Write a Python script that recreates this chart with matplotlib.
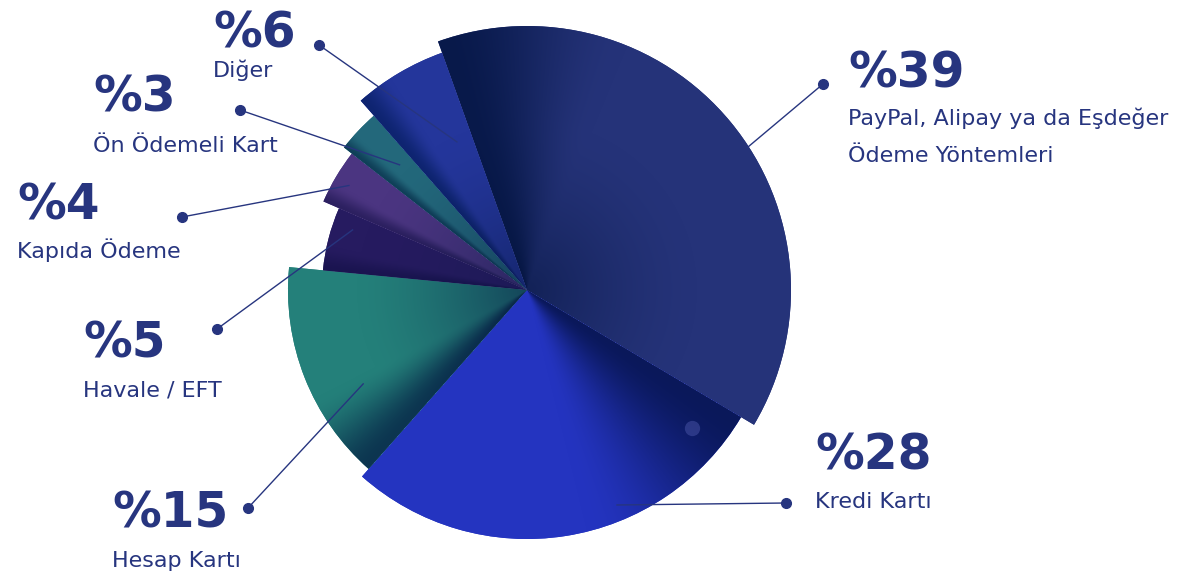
import numpy as np
import matplotlib
matplotlib.use("Agg")
import matplotlib.pyplot as plt
from matplotlib.patches import Wedge
from matplotlib.colors import to_rgb

# slices, clockwise from the top
shares = [39, 28, 15, 5, 4, 3, 6]
percent_labels = ["%39", "%28", "%15", "%5", "%4", "%3", "%6"]
names = ["PayPal, Alipay ya da Eşdeğer\nÖdeme Yöntemleri", "Kredi Kartı", "Hesap Kartı",
         "Havale / EFT", "Kapıda Ödeme", "Ön Ödemeli Kart", "Diğer"]

# styling
base_colors = ["#253379", "#2434c0", "#24807a", "#261b60", "#4b3581", "#23687b", "#24369b"]
dark_colors = ["#08194a", "#0a185a", "#0c3550", "#1a1450", "#2c2060", "#0f3f58", "#0e2470"]
shade_width = [0.3, 0.45, 0.4, 0.4, 0.4, 0.4, 0.4]
center_dark = [0.6, 0.0, 0.55, 0.3, 0.5, 0.5, 0.5]
radii = [264, 249, 239, 205, 222, 232, 252]
W, H = 1180, 574
cx, cy = 527, H - 290
start_angle = 109.7
text_color = "#27357f"

# label layout (pixels from top-left)
label_x = [848, 815, 112, 83, 17, 93, 213]
num_base = [88, 470, 528, 358, 220, 112, 47]
name_base = [125, 508, 567, 397, 258, 152, 77]
dot_xy = [(823, 84), (786, 503), (248, 508), (217, 329), (182, 217), (240, 110), (319, 45)]
anchor_frac = [0.547, 0.363, 0.346, 0.75, 0.48, 0.61, 0.74]
anchor_r = [0.996, 0.936, 0.79, 0.9, 0.93, 0.77, 0.65]

fig = plt.figure(figsize=(W / 100, H / 100), dpi=100)
ax = fig.add_axes([0, 0, 1, 1])
ax.set_xlim(0, W)
ax.set_ylim(0, H)
ax.axis("off")

yy, xx = np.mgrid[0:H, 0:W]
px = xx + 0.5 - cx
py = (H - yy - 0.5) - cy
dist = np.hypot(px, py)
phi = np.degrees(np.arctan2(py, px))
deep = np.array(to_rgb("#061640"))

a0 = start_angle
for i, s in enumerate(shares):
    span = s / 100 * 360
    r = radii[i]
    w = Wedge((cx, cy), r, a0 - span, a0, facecolor=base_colors[i], edgecolor="none", zorder=2)
    ax.add_patch(w)

    # angular shading from the leading edge plus darkening toward the center
    c0 = np.array(to_rgb(dark_colors[i]))
    c1 = np.array(to_rgb(base_colors[i]))
    t = np.mod(a0 - phi, 360) / span
    g = np.clip(t / shade_width[i], 0, 1)
    g = g * g * (3 - 2 * g)
    col = c0 + (c1 - c0) * g[..., None]
    k = center_dark[i] * np.clip(1 - dist / 170, 0, 1) ** 1.5
    col = col + (deep - col) * k[..., None]
    img = np.ones((H, W, 4))
    img[..., :3] = col
    im = ax.imshow(img, extent=(0, W, 0, H), origin="upper", zorder=3, interpolation="bilinear")
    im.set_clip_path(w)

    # leader line and dot
    th = np.radians(a0 - anchor_frac[i] * span)
    lx = cx + anchor_r[i] * r * np.cos(th)
    ly = cy + anchor_r[i] * r * np.sin(th)
    dx, dy = dot_xy[i]
    ax.plot([lx, dx], [ly, H - dy], color=text_color, lw=1.0, zorder=4)
    ax.plot(dx, H - dy, "o", color=text_color, ms=7, zorder=5)

    ax.text(label_x[i], H - num_base[i], percent_labels[i], fontsize=35, fontweight="bold",
            color=text_color, va="baseline", ha="left", zorder=6)
    for j, line in enumerate(names[i].split("\n")):
        ax.text(label_x[i], H - name_base[i] - 37 * j, line, fontsize=16, color=text_color,
                va="baseline", ha="left", zorder=6)
    a0 -= span

# faint marker left on the credit card slice
ax.plot(692, H - 428, "o", color="#4a55a8", alpha=0.5, ms=11, mec="none", zorder=4)

fig.savefig("out.png", dpi=100)
